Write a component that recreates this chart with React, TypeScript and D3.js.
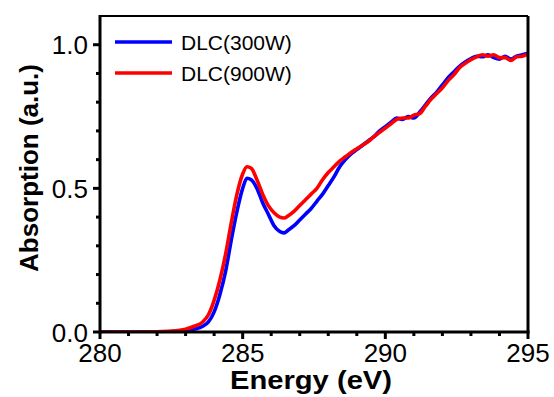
import * as d3 from 'd3';

// ─── Data ───────────────────────────────────────────────────

const ENERGY = [
  280, 281, 282, 282.5, 283, 283.3, 283.6, 283.8, 284, 284.2, 284.4, 284.6, 284.8, 285, 285.15, 285.3,
  285.5, 285.7, 285.9, 286.1, 286.3, 286.45, 286.6, 286.8, 287, 287.2, 287.4, 287.6, 287.8, 288,
  288.2, 288.4, 288.6, 288.8, 289, 289.2, 289.4, 289.6, 289.8, 290, 290.2, 290.4, 290.6, 290.8,
  291, 291.2, 291.4, 291.6, 291.8, 292, 292.2, 292.4, 292.6, 292.8, 293, 293.2, 293.4, 293.6,
  293.8, 294, 294.2, 294.4, 294.6, 294.8, 295,
];

const DLC_300W = [
  0, 0, 0, 0.001, 0.004, 0.01, 0.02, 0.035, 0.07, 0.13, 0.21, 0.32, 0.42, 0.5, 0.535, 0.53,
  0.5, 0.45, 0.41, 0.37, 0.35, 0.345, 0.355, 0.37, 0.39, 0.41, 0.43, 0.455, 0.48, 0.51,
  0.54, 0.575, 0.6, 0.62, 0.635, 0.65, 0.665, 0.68, 0.7, 0.715, 0.73, 0.745, 0.74, 0.75,
  0.745, 0.765, 0.79, 0.815, 0.835, 0.86, 0.885, 0.905, 0.925, 0.94, 0.952, 0.96, 0.958, 0.965,
  0.955, 0.95, 0.96, 0.95, 0.96, 0.965, 0.97,
];

const DLC_900W = [
  0, 0, 0.001, 0.003, 0.01, 0.02, 0.035, 0.06, 0.11, 0.18, 0.27, 0.38, 0.48, 0.55, 0.575, 0.57,
  0.53, 0.48, 0.44, 0.415, 0.4, 0.397, 0.405, 0.42, 0.44, 0.46, 0.48, 0.5, 0.53, 0.555,
  0.575, 0.595, 0.61, 0.625, 0.638, 0.65, 0.663, 0.68, 0.695, 0.71, 0.725, 0.74, 0.745, 0.745,
  0.755, 0.76, 0.785, 0.81, 0.83, 0.85, 0.875, 0.895, 0.92, 0.935, 0.948, 0.958, 0.965, 0.96,
  0.965, 0.955, 0.955, 0.945, 0.958, 0.96, 0.968,
];

const SERIES = [
  { name: 'DLC(300W)', values: DLC_300W, color: '#0000ff' },
  { name: 'DLC(900W)', values: DLC_900W, color: '#ff0000' },
];

const X_TICKS = [280, 285, 290, 295];
const Y_TICKS = [0, 0.5, 1.0];

// ─── Layout ─────────────────────────────────────────────────

const W = 554;
const H = 397;
const PLOT = { left: 100, right: 528, top: 16, bottom: 332 };
const FONT = '"Liberation Sans", Arial, sans-serif';

export default function App() {
  const x = d3.scaleLinear().domain([280, 295]).range([PLOT.left, PLOT.right]);
  const y = d3.scaleLinear().domain([0, 1.1]).range([PLOT.bottom, PLOT.top]);

  const line = d3
    .line<number>()
    .x((_, i) => x(ENERGY[i]))
    .y((d) => y(d))
    .curve(d3.curveMonotoneX);

  const xMinor = d3.range(280, 295.01, 1).filter((v) => !X_TICKS.includes(v));
  const yMinor = d3.range(0, 1.001, 0.1).map((v) => +v.toFixed(1)).filter((v) => !Y_TICKS.includes(v));

  return (
    <svg width={W} height={H} style={{ position: 'absolute', left: 0, top: 0, background: '#fff' }}>
      <defs>
        <clipPath id="plot-clip">
          <rect x={PLOT.left} y={PLOT.top} width={PLOT.right - PLOT.left} height={PLOT.bottom - PLOT.top} />
        </clipPath>
      </defs>

      {/* curves */}
      <g clipPath="url(#plot-clip)">
        {SERIES.map((s) => (
          <path key={s.name} d={line(s.values) ?? ''} fill="none" stroke={s.color}
            strokeWidth={3.6} strokeLinejoin="round" strokeLinecap="round" />
        ))}
      </g>

      {/* frame */}
      <line x1={PLOT.left} x2={PLOT.right} y1={PLOT.top} y2={PLOT.top} stroke="#000" strokeWidth={2} />
      <line x1={PLOT.right} x2={PLOT.right} y1={PLOT.top} y2={PLOT.bottom} stroke="#000" strokeWidth={3} />
      <line x1={PLOT.left} x2={PLOT.right + 1.5} y1={PLOT.bottom} y2={PLOT.bottom} stroke="#000" strokeWidth={3} />
      <line x1={PLOT.left} x2={PLOT.left} y1={PLOT.top - 1} y2={PLOT.bottom + 1.5} stroke="#000" strokeWidth={3} />

      {/* x ticks */}
      {X_TICKS.map((t) => (
        <g key={`xt${t}`}>
          <line x1={x(t)} x2={x(t)} y1={PLOT.bottom} y2={PLOT.bottom + 7} stroke="#000" strokeWidth={3} />
          <text x={x(t)} y={362} textAnchor="middle" fontFamily={FONT} fontSize={26}>{t}</text>
        </g>
      ))}
      {xMinor.map((t) => (
        <line key={`xm${t}`} x1={x(t)} x2={x(t)} y1={PLOT.bottom} y2={PLOT.bottom + 4} stroke="#000" strokeWidth={3} />
      ))}

      {/* y ticks */}
      {Y_TICKS.map((t) => (
        <g key={`yt${t}`}>
          <line x1={PLOT.left - 7} x2={PLOT.left} y1={y(t)} y2={y(t)} stroke="#000" strokeWidth={3} />
          <text x={88} y={y(t) + 9.5} textAnchor="end" fontFamily={FONT} fontSize={26}>{t.toFixed(1)}</text>
        </g>
      ))}
      {yMinor.map((t) => (
        <line key={`ym${t}`} x1={PLOT.left - 4} x2={PLOT.left} y1={y(t)} y2={y(t)} stroke="#000" strokeWidth={3} />
      ))}

      {/* axis titles */}
      <text x={311} y={389} textAnchor="middle" fontFamily={FONT} fontSize={25} fontWeight="bold"
        textLength={162} lengthAdjust="spacingAndGlyphs">Energy (eV)</text>
      <text transform={`translate(38,${168}) rotate(-90)`} textAnchor="middle" fontFamily={FONT}
        fontSize={26} fontWeight="bold">Absorption (a.u.)</text>

      {/* legend */}
      {SERIES.map((s, i) => (
        <g key={`lg${s.name}`} transform={`translate(0,${42 + i * 31})`}>
          <line x1={115} x2={172} y1={0} y2={0} stroke={s.color} strokeWidth={3.6} />
          <text x={181} y={8} fontFamily={FONT} fontSize={21}>{s.name}</text>
        </g>
      ))}
    </svg>
  );
}
